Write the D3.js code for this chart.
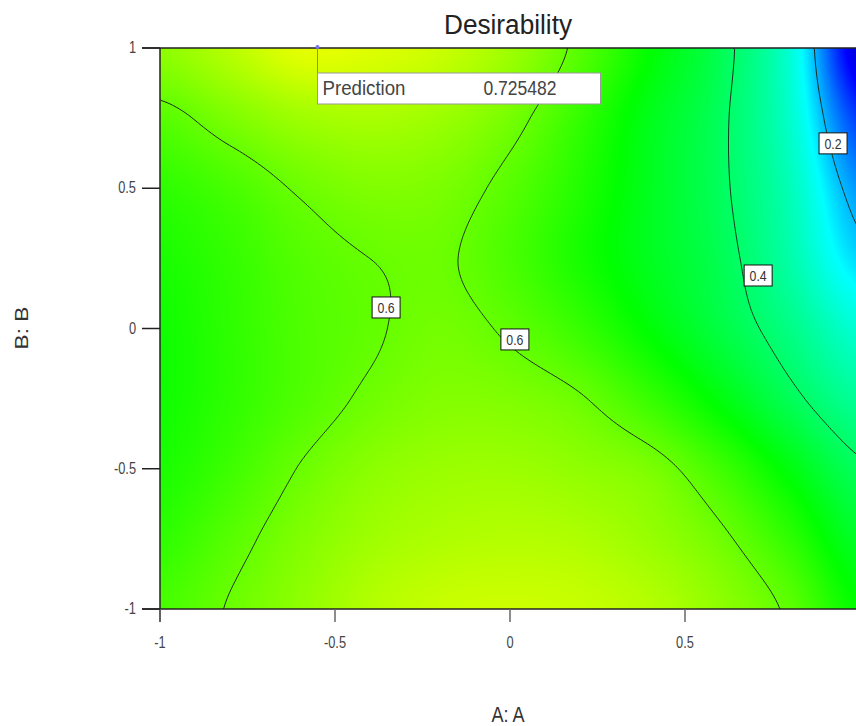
<!DOCTYPE html>
<html>
<head>
<meta charset="utf-8">
<script src="https://cdn.jsdelivr.net/npm/d3@7"></script>
<style>
  body { margin: 0; background: #fff; }
  svg { display: block; font-family: "Liberation Sans", Arial, sans-serif; }
</style>
</head>
<body>
<svg id="chart" width="856" height="726"></svg>
<script>
// factor levels of the grid that desirability was read at
var aVals = [-1, -0.8, -0.6, -0.4, -0.2, 0, 0.2, 0.4, 0.6, 0.8, 1];
var bVals = [1, 0.75, 0.5, 0.25, 0, -0.25, -0.5, -0.75, -1];

// desirability, one row per B level (top to bottom)
var dB100  = [0.64, 0.68, 0.724, 0.718, 0.698, 0.655, 0.585, 0.50, 0.42, 0.29, 0.02];
var dB075  = [0.585, 0.622, 0.655, 0.665, 0.652, 0.615, 0.55, 0.475, 0.41, 0.30, 0.10];
var dB050  = [0.545, 0.57, 0.605, 0.625, 0.62, 0.585, 0.532, 0.47, 0.41, 0.32, 0.17];
var dB025  = [0.525, 0.55, 0.582, 0.60, 0.605, 0.572, 0.522, 0.47, 0.42, 0.335, 0.22];
var dB000  = [0.515, 0.545, 0.576, 0.595, 0.613, 0.593, 0.553, 0.495, 0.435, 0.37, 0.29];
var dBm025 = [0.515, 0.545, 0.578, 0.608, 0.627, 0.624, 0.604, 0.553, 0.488, 0.415, 0.35];
var dBm050 = [0.525, 0.56, 0.603, 0.635, 0.65, 0.652, 0.64, 0.62, 0.562, 0.487, 0.41];
var dBm075 = [0.545, 0.585, 0.625, 0.655, 0.67, 0.676, 0.67, 0.648, 0.61, 0.545, 0.46];
var dBm100 = [0.57, 0.604, 0.64, 0.675, 0.695, 0.70, 0.695, 0.677, 0.64, 0.59, 0.50];

var levels = [0.2, 0.4, 0.6];
var xTicks = [-1, -0.5, 0, 0.5, 1];
var yTicks = [-1, -0.5, 0, 0.5, 1];

// colour stops of the shading
var colorStops = [0, 0.06, 0.25, 0.5, 0.75, 1];
var colorList = ["#0000b4", "#0000ff", "#00ffff", "#00ff00", "#ffff00", "#ff0000"];

// where the contour value tags sit
var tagValues = ["0.6", "0.6", "0.4", "0.2"];
var tagA = [-0.354, 0.014, 0.709, 0.923];
var tagB = [0.075, -0.039, 0.189, 0.66];

var predA = -0.55, predB = 1, predValue = "0.725482";

var grid = [dB100, dB075, dB050, dB025, dB000, dBm025, dBm050, dBm075, dBm100];

var svg = d3.select("#chart");
var svgW = 856;
var pLeft = 160, pTop = 48, pRight = 860, pBottom = 609;
var x = d3.scaleLinear().domain([-1, 1]).range([pLeft, pRight]);
var y = d3.scaleLinear().domain([-1, 1]).range([pBottom, pTop]);
var color = d3.scaleLinear().domain(colorStops).range(colorList).clamp(true);

// smooth (catmull-rom) reading of the grid, for shading only
function cr(p0, p1, p2, p3, t) {
  return p1 + 0.5 * t * (p2 - p0 + t * (2 * p0 - 5 * p1 + 4 * p2 - p3 + t * (3 * (p1 - p2) + p3 - p0)));
}
function g(j, i) {
  j = Math.max(0, Math.min(grid.length - 1, j));
  i = Math.max(0, Math.min(aVals.length - 1, i));
  return grid[j][i];
}
function field(a, b) {
  var fx = (a - aVals[0]) / (aVals[1] - aVals[0]);
  var fy = (bVals[0] - b) / (bVals[0] - bVals[1]);
  var i = Math.max(0, Math.min(Math.floor(fx), aVals.length - 2));
  var j = Math.max(0, Math.min(Math.floor(fy), grid.length - 2));
  var tx = fx - i, ty = fy - j;
  var rows = [];
  for (var k = -1; k <= 2; k++) {
    rows.push(cr(g(j + k, i - 1), g(j + k, i), g(j + k, i + 1), g(j + k, i + 2), tx));
  }
  return Math.max(0, Math.min(1, cr(rows[0], rows[1], rows[2], rows[3], ty)));
}

// shaded surface
var W = pRight - pLeft, H = pBottom - pTop;
var canvas = document.createElement("canvas");
canvas.width = W; canvas.height = H;
var ctx = canvas.getContext("2d");
var img = ctx.createImageData(W, H);
for (var py = 0; py < H; py++) {
  var b = y.invert(pTop + py + 0.5);
  for (var px = 0; px < W; px++) {
    var c = d3.rgb(color(field(x.invert(pLeft + px + 0.5), b)));
    var o = (py * W + px) * 4;
    img.data[o] = c.r; img.data[o + 1] = c.g; img.data[o + 2] = c.b; img.data[o + 3] = 255;
  }
}
ctx.putImageData(img, 0, 0);

svg.append("clipPath").attr("id", "plotclip")
  .append("rect").attr("x", pLeft).attr("y", pTop).attr("width", W).attr("height", H);

svg.append("image")
    .attr("x", pLeft).attr("y", pTop)
    .attr("width", W).attr("height", H)
    .attr("preserveAspectRatio", "none")
    .attr("href", canvas.toDataURL());

// contour lines
var nx = 351, ny = 281;
var vals = new Array(nx * ny);
for (var j = 0; j < ny; j++) {
  for (var i = 0; i < nx; i++) {
    vals[j * nx + i] = field(-1 + i * 2 / (nx - 1), 1 - j * 2 / (ny - 1));
  }
}
var contours = d3.contours().size([nx, ny]).thresholds(levels)(vals);

function onEdge(p, q) {
  return (p[0] === 0 && q[0] === 0) || (p[0] === nx && q[0] === nx) ||
         (p[1] === 0 && q[1] === 0) || (p[1] === ny && q[1] === ny);
}
function toPx(p) {
  return [x(-1 + p[0] * 2 / (nx - 1)), y(1 - p[1] * 2 / (ny - 1))];
}
function linePath(geom) {
  var d = "";
  geom.coordinates.forEach(function(poly) {
    poly.forEach(function(ring) {
      var pen = false;
      for (var k = 0; k < ring.length - 1; k++) {
        var p = ring[k], q = ring[k + 1];
        if (onEdge(p, q)) { pen = false; continue; }
        var a = toPx(p), c = toPx(q);
        if (!pen) { d += "M" + a[0].toFixed(2) + "," + a[1].toFixed(2); pen = true; }
        d += "L" + c[0].toFixed(2) + "," + c[1].toFixed(2);
      }
    });
  });
  return d;
}

svg.append("g")
    .attr("clip-path", "url(#plotclip)")
  .selectAll("path")
  .data(contours)
  .enter().append("path")
    .attr("d", linePath)
    .attr("fill", "none")
    .attr("stroke", "#1d2d1d")
    .attr("stroke-width", 1);

function squash(sel, k) {
  sel.each(function() {
    var w = this.getComputedTextLength();
    d3.select(this).attr("textLength", w * k).attr("lengthAdjust", "spacingAndGlyphs");
  });
}

// contour value tags
var tags = svg.append("g").attr("clip-path", "url(#plotclip)")
  .selectAll("g")
  .data(tagValues)
  .enter().append("g")
    .attr("transform", function(d, i) { return "translate(" + x(tagA[i]) + "," + y(tagB[i]) + ")"; });
tags.append("rect")
    .attr("x", -14).attr("y", -10.5).attr("width", 28).attr("height", 21)
    .attr("fill", "#fff").attr("stroke", "#111").attr("stroke-width", 1);
tags.append("text")
    .attr("text-anchor", "middle").attr("y", 5.5)
    .attr("font-size", 15).attr("fill", "#333")
    .text(function(d) { return d; })
    .call(squash, 0.82);

// axes frame
var axis = svg.append("g").attr("stroke", "#222").attr("stroke-width", 1.5);
axis.append("line").attr("x1", pLeft).attr("x2", pLeft).attr("y1", pTop).attr("y2", pBottom + 13);
axis.append("line").attr("x1", pLeft - 18).attr("x2", pRight).attr("y1", pBottom).attr("y2", pBottom);
axis.append("line").attr("x1", pLeft - 18).attr("x2", pRight).attr("y1", pTop).attr("y2", pTop);

axis.selectAll(".xt").data(xTicks).enter().append("line")
    .attr("x1", function(d) { return x(d); }).attr("x2", function(d) { return x(d); })
    .attr("y1", pBottom).attr("y2", pBottom + 13)
    .attr("stroke", "#666");
axis.selectAll(".yt").data(yTicks).enter().append("line")
    .attr("x1", pLeft - 18).attr("x2", pLeft)
    .attr("y1", function(d) { return y(d); }).attr("y2", function(d) { return y(d); });

// the last x label falls past the right edge of the window, as in the source
svg.selectAll(".xl").data(xTicks.filter(function(d) { return x(d) < svgW - 10; })).enter().append("text")
    .attr("x", function(d) { return x(d); }).attr("y", pBottom + 39)
    .attr("text-anchor", "middle").attr("font-size", 16).attr("fill", "#444")
    .text(function(d) { return String(d); })
    .call(squash, 0.8);
svg.selectAll(".yl").data(yTicks).enter().append("text")
    .attr("x", pLeft - 24).attr("y", function(d) { return y(d) + 5; })
    .attr("text-anchor", "end").attr("font-size", 16).attr("fill", "#444")
    .text(function(d) { return String(d); })
    .call(squash, 0.8);

// titles
svg.append("text")
    .attr("x", 508).attr("y", 34)
    .attr("text-anchor", "middle").attr("font-size", 27).attr("fill", "#222")
    .attr("textLength", 128).attr("lengthAdjust", "spacingAndGlyphs")
    .text("Desirability");
svg.append("text")
    .attr("x", 508).attr("y", 722)
    .attr("text-anchor", "middle").attr("font-size", 22).attr("fill", "#333")
    .text("A: A")
    .call(squash, 0.82);
svg.append("text")
    .attr("transform", "translate(28,328) rotate(-90)")
    .attr("text-anchor", "middle").attr("font-size", 19).attr("fill", "#333")
    .attr("textLength", 43).attr("lengthAdjust", "spacingAndGlyphs")
    .text("B: B");

// prediction flag
var fx0 = x(predA), fy0 = y(predB);
svg.append("line")
    .attr("x1", fx0).attr("x2", fx0).attr("y1", fy0 - 3).attr("y2", fy0 + 25)
    .attr("stroke", "#888").attr("stroke-width", 1);
svg.append("circle").attr("cx", fx0).attr("cy", fy0 - 1).attr("r", 2).attr("fill", "#7777ee");
svg.append("rect")
    .attr("x", fx0).attr("y", fy0 + 25).attr("width", 283).attr("height", 31)
    .attr("fill", "#fff").attr("stroke", "#999").attr("stroke-width", 1);
svg.append("text")
    .attr("x", fx0 + 5).attr("y", fy0 + 47)
    .attr("font-size", 20).attr("fill", "#444")
    .attr("textLength", 83).attr("lengthAdjust", "spacingAndGlyphs")
    .text("Prediction");
svg.append("text")
    .attr("x", fx0 + 166).attr("y", fy0 + 47)
    .attr("font-size", 20).attr("fill", "#444")
    .attr("textLength", 73).attr("lengthAdjust", "spacingAndGlyphs")
    .text(predValue);
</script>
</body>
</html>
